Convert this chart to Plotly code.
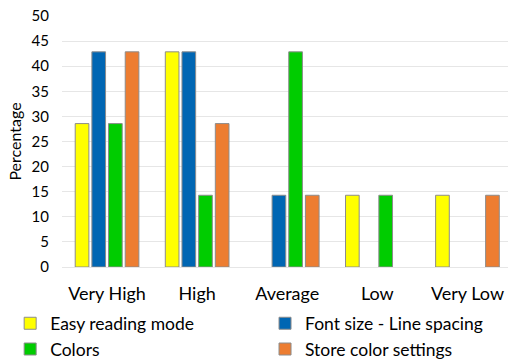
import plotly.graph_objects as go

categories = ["Very High", "High", "Average", "Low", "Very Low"]
easy_reading = [28.57, 42.86, 0, 14.29, 14.29]
font_size = [42.86, 42.86, 14.29, 0, 0]
colors_vals = [28.57, 14.29, 42.86, 14.29, 0]
store_color = [42.86, 28.57, 14.29, 0, 14.29]

# (name, values, colour, legend column)
series = [
    ("Easy reading mode", easy_reading, "#FFFF00", "legend"),
    ("Font size - Line spacing", font_size, "#0066B3", "legend2"),
    ("Colors", colors_vals, "#00CC00", "legend"),
    ("Store color settings", store_color, "#ED7D31", "legend2"),
]

fig = go.Figure()
for name, vals, col, leg in series:
    # zero-height bars are left out so no stray outline is drawn on the baseline
    fig.add_trace(go.Bar(
        name=name, x=categories, y=[v if v else None for v in vals],
        marker=dict(color=col, line=dict(color="#8c8c8c", width=1)),
        legend=leg,
    ))

# each legend column: wide entries so the two items stack one per row
legend_common = dict(
    orientation="h", xref="container", yref="container",
    xanchor="left", y=0.1517, yanchor="top",
    entrywidth=260, entrywidthmode="pixels",
    font=dict(size=17.5), tracegroupgap=0, traceorder="normal",
    bgcolor="rgba(0,0,0,0)",
)

fig.update_layout(
    width=508, height=360,
    margin=dict(l=62, r=0, t=16, b=93),
    paper_bgcolor="white", plot_bgcolor="white",
    font=dict(family="Lato, Open Sans, sans-serif", size=15, color="#000000"),
    barmode="group", bargap=0.26, bargroupgap=0.18,
    showlegend=True,
    legend=dict(x=0.02, **legend_common),
    legend2=dict(x=0.5217, **legend_common),
)
fig.update_xaxes(
    range=[-0.5, 4.45], showgrid=False, showline=False, ticks="",
    tickfont=dict(size=18), ticklabelstandoff=14,
)
fig.update_yaxes(
    range=[0, 50], dtick=5, showgrid=True, gridcolor="#e6e6e6", gridwidth=1,
    zeroline=True, zerolinecolor="#e6e6e6", zerolinewidth=1,
    ticks="", tickfont=dict(size=15), ticklabelstandoff=12,
    title=dict(text="Percentage", font=dict(size=16), standoff=5),
)

fig.write_html("out.html")
